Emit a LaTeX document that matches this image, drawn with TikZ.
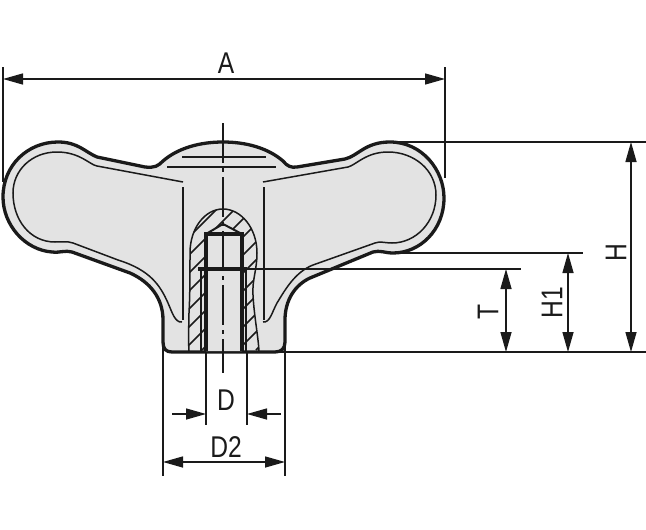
\documentclass[tikz,border=0pt]{standalone}
\usepackage{fontspec}
\setmainfont[FakeStretch=0.82]{Liberation Sans}
\usetikzlibrary{arrows.meta}
\definecolor{knobgray}{RGB}{227,227,227}
\definecolor{inkblack}{RGB}{26,26,26}
\tikzset{
	outline/.style={draw=inkblack,line width=3.3pt,line join=round},
	inner/.style={draw=inkblack,line width=1.5pt},
	extline/.style={color=inkblack,line width=1.5pt},
	dimline/.style={color=inkblack,line width=1.5pt,<->},
	dimlabel/.style={text=inkblack,inner sep=0pt,font=\fontsize{30}{30}\selectfont},
	>={Triangle[length=20pt,width=11pt]}
}
\begin{document}
\begin{tikzpicture}[x=1pt,y=-1pt]
	    \useasboundingbox (0,0) rectangle (646,530);
	    % body
	    \draw[outline,fill=knobgray] (163,161) .. controls (178,148) and (200,142) .. (223,142)
	        .. controls (246,142) and (268,148) .. (283,161)
	        .. controls (287,166) and (291,168) .. (297,167)
	        -- (345,159) .. controls (358,156) and (365,142) .. (390,142)
	        .. controls (422,142) and (444,170) .. (444,198)
	        .. controls (444,230) and (420,253) .. (393,253)
	        .. controls (385,253) and (380,250) .. (373,252)
	        -- (310,278) .. controls (295,285) and (285,300) .. (285,320)
	        -- (285,342) .. controls (285,349) and (281,352) .. (275,352)
	        -- (172,352) .. controls (166,352) and (163,349) .. (163,342)
	        -- (163,320) .. controls (163,298) and (150,282) .. (130,273)
	        -- (72,252) .. controls (65,250) and (60,253) .. (52,252)
	        .. controls (25,250) and (3,225) .. (3,197)
	        .. controls (3,165) and (28,142) .. (58,142)
	        .. controls (78,142) and (85,152) .. (97,157)
	        -- (145,167) .. controls (155,168) and (158,166) .. (163,161) -- cycle;
	    % inner lines
	    \draw[inner] (183,182) -- (97,166) .. controls (90,165) and (80,152) .. (57,152)
	        .. controls (32,152) and (13,170) .. (13,193)
	        .. controls (13,220) and (30,242) .. (55,242)
	        .. controls (62,242) and (67,241) .. (73,243)
	        -- (118,260) .. controls (150,270) and (160,285) .. (168,303)
	        .. controls (172,312) and (175,323) .. (182,322);
	    \draw[inner] (263,182) -- (348,167) .. controls (356,165) and (366,152) .. (388,152)
	        .. controls (414,152) and (436,170) .. (436,195)
	        .. controls (436,222) and (416,243) .. (392,243)
	        .. controls (385,243) and (380,241) .. (375,243)
	        -- (313,265) .. controls (295,272) and (285,290) .. (277,303)
	        .. controls (272,312) and (270,323) .. (263,322);
	    \draw[inner] (183,187) -- (183,320);
	    \draw[inner] (264,187) -- (264,320);
	    \draw[inner] (182,157) -- (266,157);
	    \draw[inner] (167,167) -- (276,167);
	    % hatched wall
	    \begin{scope}
	        \clip (189,351) .. controls (188,335) and (189,325) .. (189,313)
	            .. controls (190,295) and (190,275) .. (190,253)
	            .. controls (190,228) and (205,209) .. (223,209)
	            .. controls (241,209) and (257,228) .. (257,253)
	            .. controls (257,270) and (252,280) .. (253,295)
	            .. controls (254,315) and (258,335) .. (259,351) -- cycle;
	        \foreach \s in {426,444,...,606}
	            \draw[inner] (\s-250,250) -- (\s-100,100) (\s-350,350) -- (\s-250,250);
	    \end{scope}
	    \draw[inner] (189,351) .. controls (188,335) and (189,325) .. (189,313)
	        .. controls (190,295) and (190,275) .. (190,253)
	        .. controls (190,228) and (205,209) .. (223,209)
	        .. controls (241,209) and (257,228) .. (257,253)
	        .. controls (257,270) and (252,280) .. (253,295)
	        .. controls (254,315) and (258,335) .. (259,351);
	    % threaded hole
	    \fill[knobgray] (206,351) -- (206,234) -- (223,224) -- (242,234) -- (242,351) -- cycle;
	    \draw[inkblack,line width=3.2pt,line join=miter] (206,351) -- (206,234) -- (242,234) -- (242,351);
	    \draw[inkblack,line width=2pt] (206,234) -- (223,224) -- (242,234);
	    \draw[inkblack,line width=3.2pt] (198,269) -- (247,269);
	    \draw[inkblack,line width=2pt] (201,269) -- (201,351);
	    \draw[inkblack,line width=2pt] (246,269) -- (246,351);
	    % centre line
	    \draw[inkblack,line width=1.3pt,dash pattern=on 40pt off 5pt on 4pt off 5pt] (223,123) -- (223,373);

	    \coordinate (Atop1) at (3,67);
	    \coordinate (Abot1) at (3,182);
	    \coordinate (Atop2) at (445,67);
	    \coordinate (Abot2) at (445,178);
	    \coordinate (Al) at (3,79);
	    \coordinate (Ar) at (445,79);
	    \coordinate (Hs) at (390,142);
	    \coordinate (He) at (646,142);
	    \coordinate (Hs1) at (393,253);
	    \coordinate (He1) at (583,253);
	    \coordinate (Ts) at (247,269);
	    \coordinate (Te) at (521,269);
	    \coordinate (Bs) at (275,352);
	    \coordinate (Be) at (646,352);
	    \coordinate (Ht) at (631,142);
	    \coordinate (Hb) at (631,352);
	    \coordinate (Ho) at (568,253);
	    \coordinate (Hu) at (568,352);
	    \coordinate (Tt) at (506,269);
	    \coordinate (Tb) at (506,352);
	    \coordinate (Dx1) at (206,352);
	    \coordinate (Dy1) at (206,425);
	    \coordinate (Dx2) at (247,352);
	    \coordinate (Dy2) at (247,425);
	    \coordinate (Ex1) at (163,345);
	    \coordinate (Ey1) at (163,476);
	    \coordinate (Ex2) at (285,345);
	    \coordinate (Ey2) at (285,476);
	    \coordinate (Dfree1) at (172,414);
	    \coordinate (Dtip1) at (206,414);
	    \coordinate (Dfree2) at (281,414);
	    \coordinate (Dtip2) at (247,414);
	    \coordinate (El) at (163,462);
	    \coordinate (Er) at (285,462);

	    \path [extline] (Atop1) edge (Abot1);
	    \path [extline] (Atop2) edge (Abot2);
	    \path [extline] (Hs) edge (He);
	    \path [extline] (Hs1) edge (He1);
	    \path [extline] (Ts) edge (Te);
	    \path [extline] (Bs) edge (Be);
	    \path [extline] (Dx1) edge (Dy1);
	    \path [extline] (Dx2) edge (Dy2);
	    \path [extline] (Ex1) edge (Ey1);
	    \path [extline] (Ex2) edge (Ey2);

	    \path [dimline] (Al) edge (Ar);
	    \path [dimline] (Ht) edge (Hb);
	    \path [dimline] (Ho) edge (Hu);
	    \path [dimline] (Tt) edge (Tb);
	    \path [dimline] (El) edge (Er);
	    \path [extline,->] (Dfree1) edge (Dtip1);
	    \path [extline,->] (Dfree2) edge (Dtip2);

	    \node[dimlabel] (labelA) at (226,63) {A};
	    \node[dimlabel,rotate=90] (labelH) at (616,253) {H};
	    \node[dimlabel,rotate=90] (labelHo) at (552,303) {H1};
	    \node[dimlabel,rotate=90] (labelT) at (488,312) {T};
	    \node[dimlabel] (labelD) at (226,400) {D};
	    \node[dimlabel] (labelDz) at (226,447) {D2};
	\end{tikzpicture}
\end{document}
